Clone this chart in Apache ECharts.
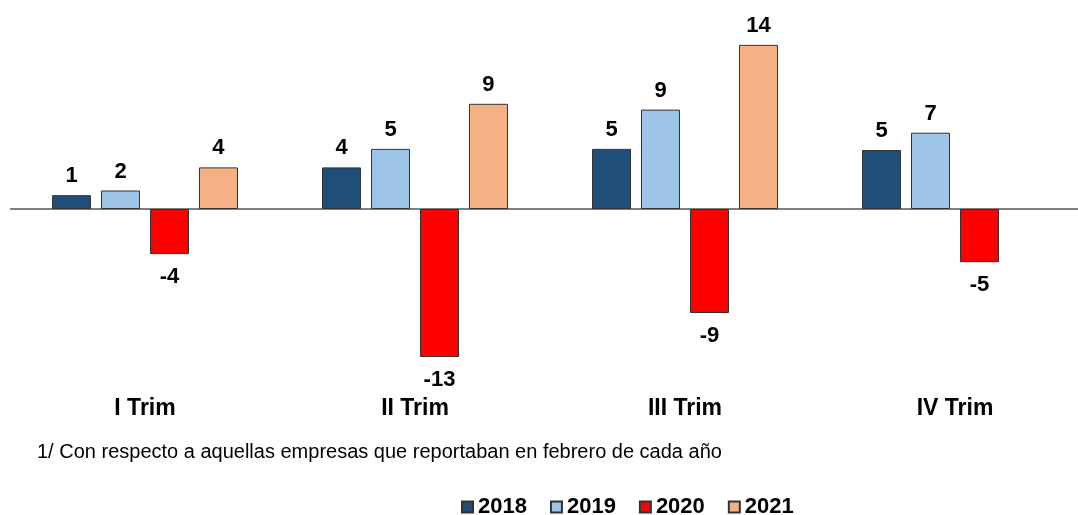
<!DOCTYPE html>
<html>
<head>
<meta charset="utf-8">
<script src="https://cdn.jsdelivr.net/npm/echarts@6/dist/echarts.min.js"></script>
<style>
html,body{margin:0;padding:0;background:#fff;}
#chart{width:1078px;height:515px;}
</style>
</head>
<body>
<div id="chart"></div>
<script>
const categories = ['I Trim', 'II Trim', 'III Trim', 'IV Trim'];
const seriesNames = ['2018', '2019', '2020', '2021'];
const v2018 = [1.2, 3.6, 5.2, 5.1];
const v2019 = [1.6, 5.2, 8.6, 6.6];
const v2020 = [-3.9, -12.8, -9.0, -4.6];
const v2021 = [3.6, 9.1, 14.2, null];
const footnote = '1/ Con respecto a aquellas empresas que reportaban en febrero de cada año';

const colors = ['#1F4E79', '#9DC3E6', '#FF0000', '#F4B183'];
const FONT = '"Liberation Sans", Arial, sans-serif';

function makeData(arr) {
  return arr.map(v => v === null ? null : {
    value: v,
    label: v < 0 ? { position: 'bottom', distance: 12 } : { position: 'top', distance: 8 }
  });
}

const allValues = [v2018, v2019, v2020, v2021];
const series = seriesNames.map((name, i) => ({
  name: name,
  type: 'bar',
  data: makeData(allValues[i]),
  barWidth: 39,
  barGap: '25.6%',
  itemStyle: { color: colors[i], borderColor: '#333333', borderWidth: 1 },
  label: {
    show: true,
    color: '#000',
    fontFamily: FONT,
    fontWeight: 'bold',
    fontSize: 22,
    formatter: p => String(Math.round(p.value))
  },
  markLine: i === 0 ? {
    silent: true,
    symbol: 'none',
    label: { show: false },
    lineStyle: { color: '#7F7F7F', width: 2, type: 'solid' },
    data: [{ yAxis: 0 }],
    z: 1
  } : undefined
}));

const chart = echarts.init(document.getElementById('chart'), null, { renderer: 'canvas' });
chart.setOption({
  animation: false,
  backgroundColor: '#ffffff',
  textStyle: { fontFamily: FONT },
  title: {
    text: footnote,
    left: 37,
    top: 442,
    padding: 0,
    textStyle: { fontFamily: FONT, fontWeight: 'normal', fontSize: 20, color: '#000' }
  },
  legend: {
    data: seriesNames,
    left: 461,
    top: 496,
    padding: 0,
    icon: 'rect',
    itemWidth: 11,
    itemHeight: 11,
    itemGap: 23,
    textStyle: { fontFamily: FONT, fontWeight: 'bold', fontSize: 22, color: '#000' }
  },
  grid: { left: 10, right: -12, top: 35.6, bottom: 132.6, containLabel: false, outerBoundsMode: 'none' },
  xAxis: {
    type: 'category',
    data: categories,
    axisLine: { show: false, onZero: false },
    axisTick: { show: false },
    axisLabel: {
      margin: 15,
      color: '#000',
      fontFamily: FONT,
      fontWeight: 'bold',
      fontSize: 23,
      lineHeight: 23
    }
  },
  yAxis: {
    type: 'value',
    min: -15,
    max: 15,
    show: false,
    splitLine: { show: false }
  },
  series: series
});
</script>
</body>
</html>
